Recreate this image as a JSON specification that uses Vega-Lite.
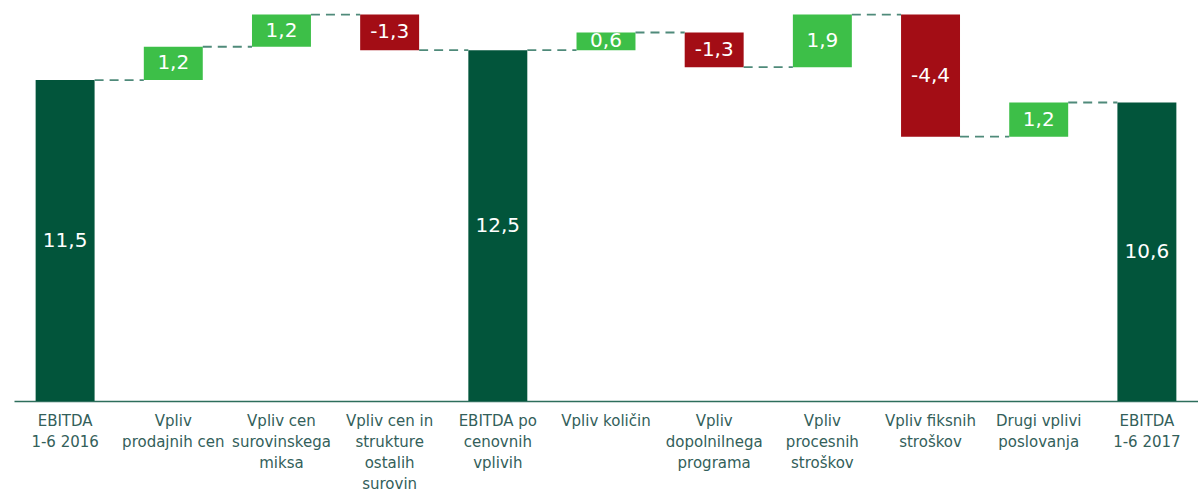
{
  "$schema": "https://vega.github.io/schema/vega-lite/v6.json",
  "width": 1184,
  "height": 401,
  "autosize": "none",
  "padding": {"left": 14, "top": 0, "right": 0, "bottom": 90},
  "background": "white",
  "config": {"view": {"stroke": null}},
  "datasets": {
    "bars": [
      {"cat": "EBITDA|1-6 2016", "start": 0, "end": 11.46, "label": "11,5", "type": "total"},
      {"cat": "Vpliv|prodajnih cen", "start": 11.46, "end": 12.65, "label": "1,2", "type": "inc"},
      {"cat": "Vpliv cen|surovinskega|miksa", "start": 12.65, "end": 13.8, "label": "1,2", "type": "inc"},
      {"cat": "Vpliv cen in|strukture|ostalih|surovin", "start": 13.8, "end": 12.53, "label": "-1,3", "type": "dec"},
      {"cat": "EBITDA po|cenovnih|vplivih", "start": 0, "end": 12.53, "label": "12,5", "type": "total"},
      {"cat": "Vpliv količin", "start": 12.53, "end": 13.16, "label": "0,6", "type": "inc"},
      {"cat": "Vpliv|dopolnilnega|programa", "start": 13.16, "end": 11.92, "label": "-1,3", "type": "dec"},
      {"cat": "Vpliv|procesnih|stroškov", "start": 11.92, "end": 13.8, "label": "1,9", "type": "inc"},
      {"cat": "Vpliv fiksnih|stroškov", "start": 13.8, "end": 9.44, "label": "-4,4", "type": "dec"},
      {"cat": "Drugi vplivi|poslovanja", "start": 9.44, "end": 10.66, "label": "1,2", "type": "inc"},
      {"cat": "EBITDA|1-6 2017", "start": 0, "end": 10.66, "label": "10,6", "type": "total"}
    ],
    "links": [
      {"from": "EBITDA|1-6 2016", "to": "Vpliv|prodajnih cen", "level": 11.46},
      {"from": "Vpliv|prodajnih cen", "to": "Vpliv cen|surovinskega|miksa", "level": 12.65},
      {"from": "Vpliv cen|surovinskega|miksa", "to": "Vpliv cen in|strukture|ostalih|surovin", "level": 13.8},
      {"from": "Vpliv cen in|strukture|ostalih|surovin", "to": "EBITDA po|cenovnih|vplivih", "level": 12.53},
      {"from": "EBITDA po|cenovnih|vplivih", "to": "Vpliv količin", "level": 12.53},
      {"from": "Vpliv količin", "to": "Vpliv|dopolnilnega|programa", "level": 13.16},
      {"from": "Vpliv|dopolnilnega|programa", "to": "Vpliv|procesnih|stroškov", "level": 11.92},
      {"from": "Vpliv|procesnih|stroškov", "to": "Vpliv fiksnih|stroškov", "level": 13.8},
      {"from": "Vpliv fiksnih|stroškov", "to": "Drugi vplivi|poslovanja", "level": 9.44},
      {"from": "Drugi vplivi|poslovanja", "to": "EBITDA|1-6 2017", "level": 10.66}
    ]
  },
  "layer": [
    {
      "data": {"name": "bars"},
      "mark": {"type": "bar"},
      "encoding": {
        "x": {"field": "cat", "type": "nominal",
              "scale": {"domain": ["EBITDA|1-6 2016", "Vpliv|prodajnih cen", "Vpliv cen|surovinskega|miksa", "Vpliv cen in|strukture|ostalih|surovin", "EBITDA po|cenovnih|vplivih", "Vpliv količin", "Vpliv|dopolnilnega|programa", "Vpliv|procesnih|stroškov", "Vpliv fiksnih|stroškov", "Drugi vplivi|poslovanja", "EBITDA|1-6 2017"], "paddingInner": 0.455, "paddingOuter": 0.2},
              "axis": {"title": null, "labelAngle": 0, "ticks": false, "domainColor": "#2d6e5c", "domainWidth": 1.5,
                       "labelExpr": "split(datum.label, '|')", "labelFont": "DejaVu Sans", "labelFontSize": 15,
                       "labelColor": "#33605a", "labelLineHeight": 21, "labelPadding": 12, "labelBaseline": "top",
                       "labelOverlap": false, "labelBound": false, "labelFlush": false, "labelLimit": 0}},
        "y": {"field": "start", "type": "quantitative", "scale": {"domain": [0, 14.32], "nice": false, "zero": false}, "axis": null},
        "y2": {"field": "end"},
        "color": {"field": "type", "type": "nominal", "scale": {"domain": ["total", "inc", "dec"], "range": ["#02553b", "#3dbf48", "#a30d15"]}, "legend": null}
      }
    },
    {
      "data": {"name": "links"},
      "mark": {"type": "rule", "stroke": "#4f8a7a", "strokeWidth": 1.8, "strokeDash": [9, 6]},
      "encoding": {
        "x": {"field": "from", "type": "nominal", "bandPosition": 1},
        "x2": {"field": "to", "bandPosition": 0},
        "y": {"field": "level", "type": "quantitative"}
      }
    },
    {
      "data": {"name": "bars"},
      "transform": [
        {"fold": ["start", "end"], "as": ["k", "v"]},
        {"aggregate": [{"op": "mean", "field": "v", "as": "mid"}], "groupby": ["cat", "label"]}
      ],
      "mark": {"type": "text", "color": "white", "font": "DejaVu Sans", "fontSize": 20, "baseline": "middle", "align": "center"},
      "encoding": {
        "x": {"field": "cat", "type": "nominal"},
        "y": {"field": "mid", "type": "quantitative"},
        "text": {"field": "label"}
      }
    }
  ]
}
